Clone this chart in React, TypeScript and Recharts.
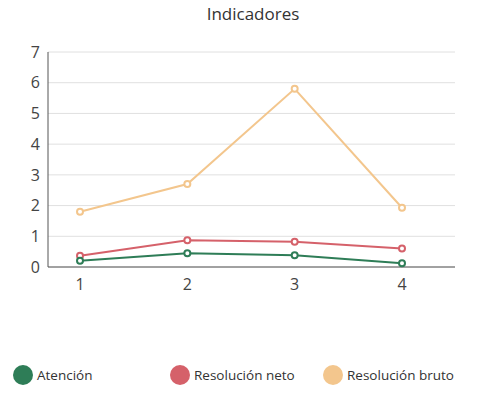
import { LineChart, Line, XAxis, YAxis, CartesianGrid } from "recharts";

const categories = ["1", "2", "3", "4"];
const atencion = [0.2, 0.45, 0.38, 0.12];
const resolucionNeto = [0.37, 0.87, 0.82, 0.6];
const resolucionBruto = [1.8, 2.7, 5.8, 1.93];
const yTicks = [0, 1, 2, 3, 4, 5, 6, 7];

const series = [
  { key: "atencion", name: "Atención", color: "#2e7d57", left: 5 },
  { key: "neto", name: "Resolución neto", color: "#d5616a", left: 162 },
  { key: "bruto", name: "Resolución bruto", color: "#f3c68d", left: 315 },
];

const data = categories.map((c, i) => ({
  cat: c,
  atencion: atencion[i],
  neto: resolucionNeto[i],
  bruto: resolucionBruto[i],
}));

const font = "'Segoe UI', 'Open Sans', sans-serif";

export default function App() {
  return (
    <div style={{ position: "relative", width: 478, height: 386, fontFamily: font }}>
      <div style={{ position: "absolute", top: -6, width: 490, textAlign: "center", fontSize: 17, color: "#333" }}>
        Indicadores
      </div>
      <LineChart width={478} height={289} data={data} margin={{ top: 44, right: 31, left: 0, bottom: 0 }}>
        <CartesianGrid vertical={false} stroke="#e0e0e0" />
        <XAxis
          dataKey="cat"
          height={30}
          padding={{ left: 32, right: 53 }}
          stroke="#555"
          tick={{ fill: "#444", fontSize: 16, dy: 4 }}
          tickLine={false}
        />
        <YAxis
          width={40}
          domain={[0, 7]}
          ticks={yTicks}
          stroke="#555"
          tick={{ fill: "#444", fontSize: 16 }}
          tickLine={false}
        />
        {series.slice().reverse().map((s) => (
          <Line
            key={s.key}
            dataKey={s.key}
            stroke={s.color}
            strokeWidth={2}
            dot={{ r: 3, fill: "#fff", stroke: s.color, strokeWidth: 2 }}
            isAnimationActive={false}
          />
        ))}
      </LineChart>
      {series.map((s) => (
        <div key={s.key} style={{ position: "absolute", top: 357, left: s.left, display: "flex", alignItems: "center", fontSize: 13.5, color: "#333" }}>
          <span style={{ width: 20, height: 20, borderRadius: 10, background: s.color, marginRight: 4 }} />
          {s.name}
        </div>
      ))}
    </div>
  );
}
